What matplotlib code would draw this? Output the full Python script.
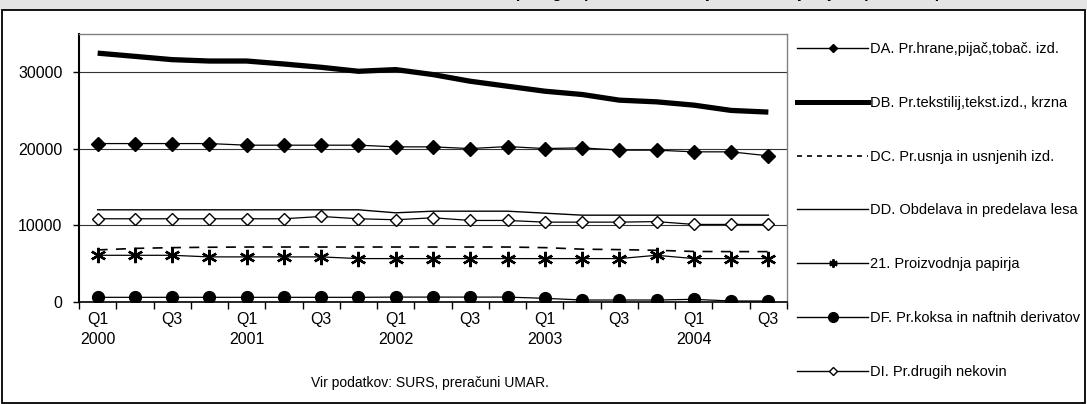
import numpy as np
import matplotlib
matplotlib.use("Agg")
import matplotlib.pyplot as plt
from matplotlib.lines import Line2D
from matplotlib.patches import Rectangle

plt.rcParams['font.family'] = ['Liberation Sans', 'DejaVu Sans']

quarters = ["Q1", "Q2", "Q3", "Q4"]
years = ["2000", "2001", "2002", "2003", "2004"]
categories = [f"{q} {y}" for y in years for q in quarters][:19]

DA = [20690, 20690, 20690, 20690, 20480, 20480, 20480, 20480, 20260, 20260,
      20040, 20300, 20040, 20130, 19830, 19830, 19610, 19610, 19090]
DB = [32500, 32080, 31650, 31470, 31470, 31080, 30650, 30130, 30350, 29700,
      28830, 28180, 27530, 27100, 26360, 26140, 25710, 25020, 24800]
DC = [6800, 7000, 7100, 7150, 7180, 7180, 7180, 7180, 7180, 7180,
      7180, 7180, 7100, 6900, 6840, 6750, 6600, 6580, 6580]
DD = [12040, 12040, 12040, 12040, 12040, 12040, 12040, 12040, 11650, 11860,
      11860, 11860, 11600, 11340, 11340, 11340, 11340, 11340, 11340]
P21 = [6100, 6100, 6100, 5890, 5890, 5890, 5890, 5670, 5670, 5670,
       5670, 5670, 5670, 5670, 5670, 6100, 5670, 5670, 5670]
DF = [610, 610, 610, 610, 610, 610, 610, 610, 640, 640,
      640, 640, 480, 260, 260, 260, 350, 130, 130]
DI = [10870, 10870, 10870, 10870, 10870, 10870, 11170, 10870, 10740, 11000,
      10650, 10650, 10430, 10430, 10430, 10500, 10130, 10130, 10130]

labels = ["DA. Pr.hrane,pijač,tobač. izd.",
          "DB. Pr.tekstilij,tekst.izd., krzna",
          "DC. Pr.usnja in usnjenih izd.",
          "DD. Obdelava in predelava lesa",
          "21. Proizvodnja papirja",
          "DF. Pr.koksa in naftnih derivatov",
          "DI. Pr.drugih nekovin"]
yticks = [0, 10000, 20000, 30000]
title = ("Slika 6: Število delovno aktivnih oseb v izbranih delovno intenzivnih "
         "panogah predelovalnih dejavnosti z največjim upadom zaposlenosti")
source = "Vir podatkov: SURS, preračuni UMAR."

W, H = 1087, 404
fig = plt.figure(figsize=(W / 100, H / 100), dpi=100)

# title band (title itself is clipped at the top edge, as in the reference)
fig.add_artist(Rectangle((0, 1 - 10 / H), 1, 10 / H, transform=fig.transFigure,
                         facecolor="#e4e4e4", edgecolor="none", zorder=0))
fig.add_artist(Rectangle((2 / W, 1 / H), (W - 4) / W, (H - 11) / H,
                         transform=fig.transFigure, facecolor="none",
                         edgecolor="black", lw=1.3, zorder=1))
fig.text(14 / W, 1 + 2.3 / H, title, fontsize=11, fontweight="bold",
         va="baseline", ha="left")

ax = fig.add_axes([79 / W, 1 - 302 / H, (787 - 79) / W, (302 - 34) / H])
x = np.arange(len(categories))

ax.plot(x, DA, color="black", lw=0.9, marker="D", ms=7, mfc="black", mec="black")
ax.plot(x, DB, color="black", lw=3.8, solid_capstyle="butt")
ax.plot(x, DC, color="black", lw=1.2, linestyle=(0, (6, 5)))
ax.plot(x, DD, color="black", lw=1.0)
ax.plot(x, P21, color="black", lw=0.9, marker=(6, 2, 0), ms=11, mew=1.7, mec="black")
ax.plot(x, DF, color="black", lw=0.9, marker="o", ms=8.5, mfc="black", mec="black")
ax.plot(x, DI, color="black", lw=0.9, marker="D", ms=6, mfc="white", mec="black", mew=1.0)

ax.set_xlim(-0.5, len(categories) - 0.5)
ax.set_ylim(0, 35000)
ax.set_yticks(yticks)
ax.set_yticklabels([str(v) for v in yticks])
ax.yaxis.grid(True, color="#333333", lw=0.8)
ax.set_axisbelow(True)

ax.set_xticks(np.arange(-0.5, len(categories), 1))
ax.set_xticklabels([])
lab_pos = x[::2]
lab_txt = [categories[i].split()[0] + ("\n" + categories[i].split()[1]
                                        if categories[i].startswith("Q1") else "")
           for i in lab_pos]
ax.set_xticks(lab_pos, minor=True)
ax.set_xticklabels(lab_txt, minor=True, linespacing=1.45, va="top")
ax.tick_params(axis="x", which="major", direction="out", length=5, width=1.0)
ax.tick_params(axis="x", which="minor", length=0, pad=7, labelsize=11.5)
ax.tick_params(axis="y", direction="out", length=4, width=1.0, pad=8, labelsize=11.5)

for s in ["top", "right"]:
    ax.spines[s].set_color("#808080")
    ax.spines[s].set_linewidth(1.0)
ax.spines["left"].set_linewidth(1.5)
ax.spines["bottom"].set_linewidth(1.2)

# legend
handles = [
    Line2D([], [], color="black", lw=1.0, marker="D", ms=4.5),
    Line2D([], [], color="black", lw=3.6),
    Line2D([], [], color="black", lw=1.2, linestyle=(0, (3, 3))),
    Line2D([], [], color="black", lw=1.0),
    Line2D([], [], color="black", lw=1.0, marker=(6, 2, 0), ms=6, mew=1.4),
    Line2D([], [], color="black", lw=1.0, marker="o", ms=7),
    Line2D([], [], color="black", lw=1.0, marker="D", ms=4.5, mfc="white", mew=1.0),
]
fig.legend(handles, labels, loc="upper left", bbox_to_anchor=(797 / W, 1 - 42 / H),
           frameon=False, fontsize=10.5, handlelength=4.9, handletextpad=0.1,
           labelspacing=2.73, numpoints=1, borderaxespad=0, borderpad=0)

fig.text(430 / W, 1 - 383 / H, source, fontsize=10, ha="center", va="center")

fig.savefig("out.png", dpi=100)
